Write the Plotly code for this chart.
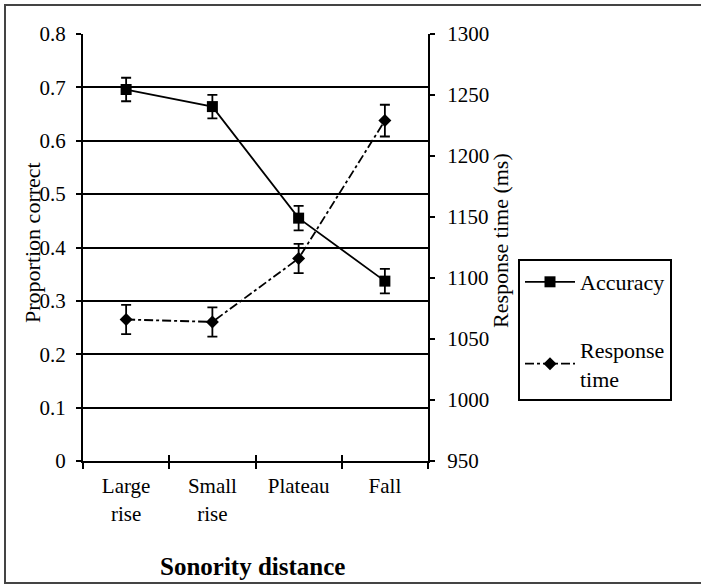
import plotly.graph_objects as go

categories = ["Large<br>rise", "Small<br>rise", "Plateau", "Fall"]
accuracy = [0.696, 0.664, 0.455, 0.337]
accuracy_err = [0.022, 0.022, 0.023, 0.023]
rt = [1066, 1064, 1116, 1229]
rt_err = [12, 12, 12, 13]

FONT = "Liberation Serif"
FS = 21

L, R, T, B = 83, 273, 34, 124
W, H = 701, 585
pw, ph = W - L - R, H - T - B

def px_x(p):
    return (p - L) / pw

def px_y(p):
    return (H - B - p) / ph

fig = go.Figure()
fig.add_trace(go.Scatter(
    x=categories, y=accuracy, name="Accuracy", mode="lines+markers",
    line=dict(color="black", width=1.8),
    marker=dict(symbol="square", size=11, color="black"),
    error_y=dict(type="data", array=accuracy_err, color="black", thickness=1.8, width=5),
    legendgroup="a", xaxis="x", yaxis="y",
))
fig.add_trace(go.Scatter(
    x=categories, y=rt, name="Response<br>time", mode="lines+markers",
    line=dict(color="black", width=1.8, dash="dashdot"),
    marker=dict(symbol="diamond", size=10, color="black"),
    error_y=dict(type="data", array=rt_err, color="black", thickness=1.8, width=5),
    legendgroup="b", xaxis="x2", yaxis="y2",
))

fig.update_layout(
    width=W, height=H,
    margin=dict(l=L, r=R, t=T, b=B),
    paper_bgcolor="white", plot_bgcolor="white",
    font=dict(family=FONT, size=FS, color="black"),
    showlegend=True,
    legend=dict(
        x=px_x(518), y=px_y(259), xanchor="left", yanchor="top",
        bordercolor="black", borderwidth=2, bgcolor="white",
        font=dict(family=FONT, size=22, color="black"),
        tracegroupgap=36, traceorder="grouped", itemwidth=50,
    ),
    xaxis=dict(
        type="category", categoryorder="array", categoryarray=categories,
        range=[-0.5, 3.5], tickson="boundaries",
        ticks="outside", ticklen=6, tickwidth=2, tickcolor="black",
        tickfont=dict(family=FONT, size=FS, color="black"),
        showline=True, linecolor="black", linewidth=2,
        showgrid=False, zeroline=False, ticklabelstandoff=5,
        anchor="y",
    ),
    xaxis2=dict(
        type="category", categoryorder="array", categoryarray=categories,
        range=[-0.5, 3.5], tickson="boundaries",
        ticks="inside", ticklen=6, tickwidth=2, tickcolor="black",
        showticklabels=False, showline=False, showgrid=False, zeroline=False,
        overlaying="x", anchor="y", side="bottom",
    ),
    yaxis=dict(
        range=[0, 0.8], dtick=0.1, tickformat=".1~f",
        ticks="outside", ticklen=5, tickwidth=2, tickcolor="black",
        tickfont=dict(family=FONT, size=FS, color="black"),
        showline=True, linecolor="black", linewidth=2,
        showgrid=True, gridcolor="black", gridwidth=2,
        zeroline=False, ticklabelstandoff=6,
    ),
    yaxis2=dict(
        range=[950, 1300], dtick=50,
        ticks="outside", ticklen=5, tickwidth=2, tickcolor="black",
        tickfont=dict(family=FONT, size=FS, color="black"),
        showline=True, linecolor="black", linewidth=2,
        showgrid=False, zeroline=False,
        overlaying="y", side="right", anchor="x", ticklabelstandoff=8,
    ),
    yaxis3=dict(
        range=[950, 1300], dtick=50,
        ticks="inside", ticklen=6, tickwidth=2, tickcolor="black",
        showticklabels=False, showline=False, showgrid=False, zeroline=False,
        overlaying="y", side="right", anchor="x",
    ),
)

fig.add_annotation(text="Proportion correct", xref="paper", yref="paper",
                   x=px_x(32), y=px_y(243), textangle=-90, showarrow=False,
                   xanchor="center", yanchor="middle",
                   font=dict(family=FONT, size=22, color="black"))
fig.add_annotation(text="Response time (ms)", xref="paper", yref="paper",
                   x=px_x(500), y=px_y(240), textangle=-90, showarrow=False,
                   xanchor="center", yanchor="middle",
                   font=dict(family=FONT, size=22, color="black"))
fig.add_annotation(text="<b>Sonority distance</b>", xref="paper", yref="paper",
                   x=px_x(252), y=px_y(566), showarrow=False,
                   xanchor="center", yanchor="middle",
                   font=dict(family=FONT, size=25, color="black"))

fig.add_shape(type="rect", xref="paper", yref="paper",
              x0=px_x(5), x1=px_x(704), y0=px_y(583), y1=px_y(5),
              line=dict(color="#444444", width=2), layer="below")

fig.write_html("out.html", config={"displayModeBar": False},
               post_script="document.body.style.margin='0px';")
